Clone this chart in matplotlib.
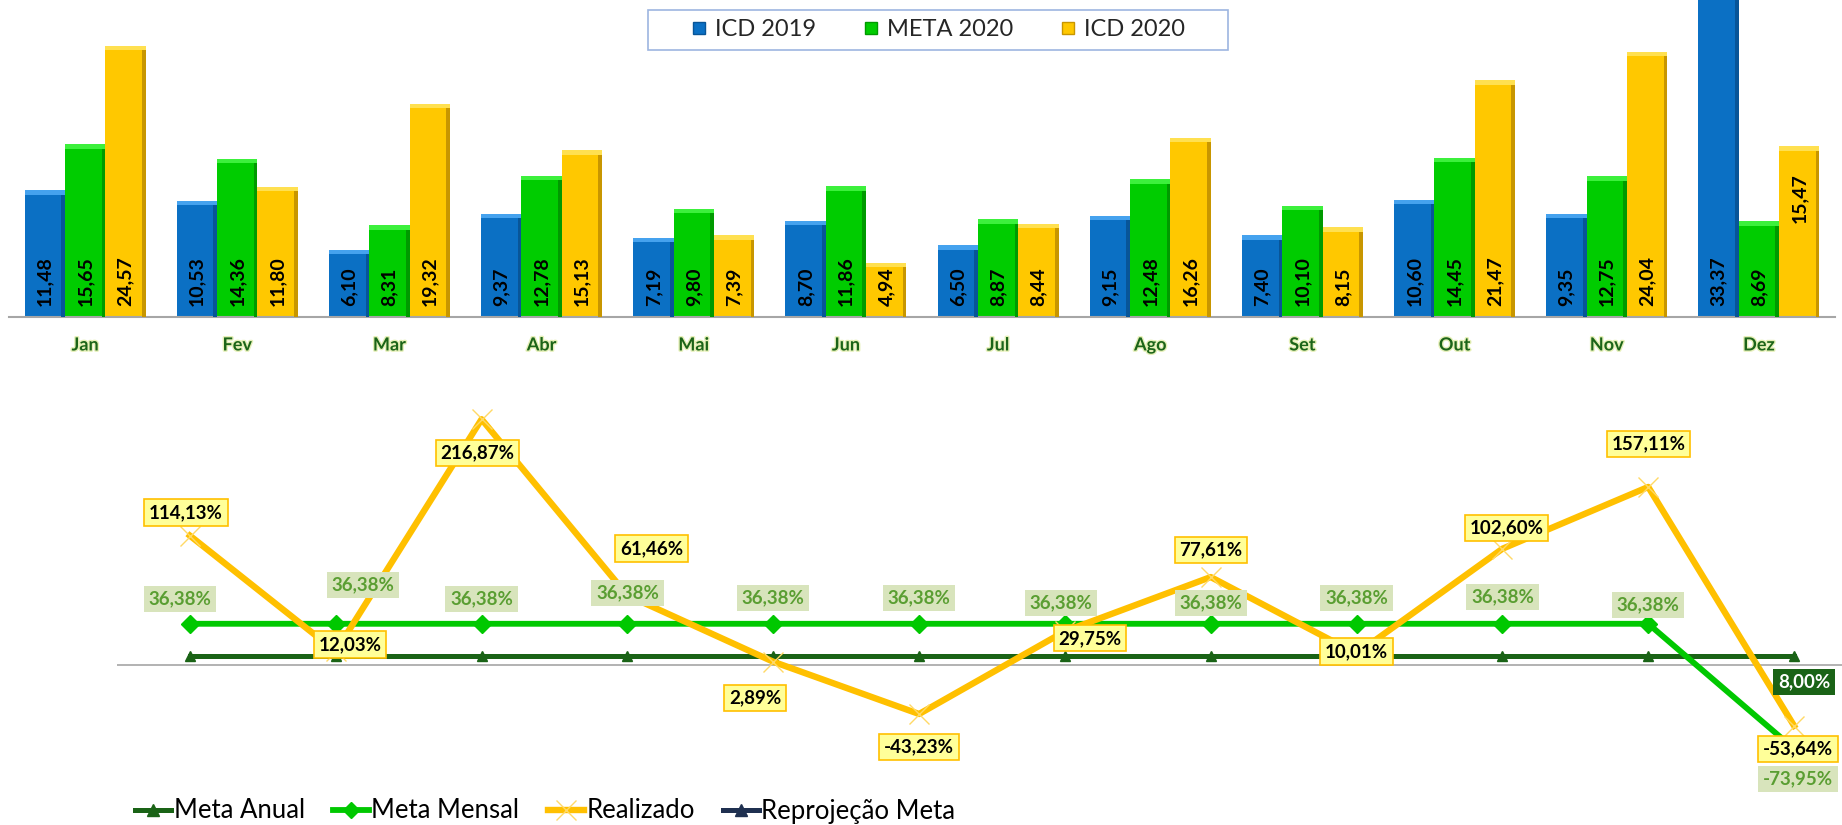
import matplotlib.pyplot as plt
from matplotlib.lines import Line2D
from matplotlib.patches import Rectangle
import matplotlib.patheffects as pe
import numpy as np

plt.rcParams['font.family'] = ['Lato', 'DejaVu Sans']

# dados do grafico de barras
months = ['Jan', 'Fev', 'Mar', 'Abr', 'Mai', 'Jun', 'Jul', 'Ago', 'Set', 'Out', 'Nov', 'Dez']
icd_2019 = [11.48, 10.53, 6.10, 9.37, 7.19, 8.70, 6.50, 9.15, 7.40, 10.60, 9.35, 33.37]
meta_2020 = [15.65, 14.36, 8.31, 12.78, 9.80, 11.86, 8.87, 12.48, 10.10, 14.45, 12.75, 8.69]
icd_2020 = [24.57, 11.80, 19.32, 15.13, 7.39, 4.94, 8.44, 16.26, 8.15, 21.47, 24.04, 15.47]

# dados do grafico de linhas (%)
meta_anual = [8.00, 8.00, 8.00, 8.00, 8.00, 8.00, 8.00, 8.00, 8.00, 8.00, 8.00, 8.00]
meta_mensal = [36.38, 36.38, 36.38, 36.38, 36.38, 36.38, 36.38, 36.38, 36.38, 36.38, 36.38, -73.95]
realizado = [114.13, 12.03, 216.87, 61.46, 2.89, -43.23, 29.75, 77.61, 10.01, 102.60, 157.11, -53.64]


def fmt(v, pct=False):
    s = f"{v:.2f}".replace('.', ',')
    return s + '%' if pct else s


W, H = 1842, 825
fig = plt.figure(figsize=(W / 100, H / 100), dpi=100)

# ---------------- barras ----------------
ax = fig.add_axes([9 / W, 1 - 317 / H, 1826 / W, 317 / H])
x = np.arange(len(months))
w = 0.265
series = [
    (icd_2019, -w, '#0B70C4', '#45A2EE', '#085598'),
    (meta_2020, 0.0, '#00CC00', '#3CF03C', '#009A00'),
    (icd_2020, w, '#FFC800', '#FFE050', '#C89600'),
]
for k, (vals, off, face, top, side) in enumerate(series):
    vals = np.array(vals)
    ax.bar(x + off, vals, w, color=face, zorder=2)
    ax.bar(x + off + w / 2 - 0.012, vals, 0.024, color=side, zorder=3)
    ax.bar(x + off, 0.4, w, bottom=vals - 0.4, color=top, zorder=3)
    for i, v in enumerate(vals):
        if k == 2 and i == 11:
            # rotulo de dezembro fica perto do topo da barra
            ax.text(x[i] + off, v - 2.4, fmt(v), rotation=90, ha='center', va='top',
                    fontsize=14, fontweight='bold', color='black', zorder=4)
        else:
            ax.text(x[i] + off, 1.0, fmt(v), rotation=90, ha='center', va='bottom',
                    fontsize=14, fontweight='bold', color='black', zorder=4)

ax.set_xlim(-0.5, 11.5)
ax.set_ylim(0, 28.74)
for s in ['top', 'left', 'right']:
    ax.spines[s].set_visible(False)
ax.spines['bottom'].set_color('#A6A6A6')
ax.spines['bottom'].set_linewidth(1.5)
ax.set_yticks([])
ax.set_xticks(x)
ax.set_xticklabels(months, fontsize=13, fontweight='bold', color='#1B6418')
for t in ax.get_xticklabels():
    t.set_path_effects([pe.withStroke(linewidth=2, foreground='#E6F0B8')])
ax.tick_params(axis='x', length=0, pad=14)

# legenda superior
fig.patches.append(Rectangle((648 / W, 1 - 50 / H), 580 / W, 40 / H, transform=fig.transFigure,
                             fill=False, edgecolor='#9DB5E0', linewidth=1.2))
top_handles = [Line2D([], [], ls='none', marker='s', ms=9, mfc=c, mec=e)
               for c, e in [('#0B70C4', '#085598'), ('#00CC00', '#009A00'), ('#FFC800', '#C89600')]]
fig.legend(top_handles, ['ICD 2019', 'META 2020', 'ICD 2020'], loc='center',
           bbox_to_anchor=(938 / W, 1 - 30 / H), ncol=3, frameon=False, fontsize=17,
           handlelength=0.7, handletextpad=0.3, columnspacing=2.0, labelcolor='#262626')

# ---------------- linhas ----------------
ax2 = fig.add_axes([117 / W, 1 - 790 / H, 1750 / W, 410 / H])
ax2.set_xlim(-0.5, 11.5)
ax2.set_ylim(-110.3, 251.5)
ax2.axis('off')
ax2.axhline(0, color='#A6A6A6', lw=1.2, zorder=1)

c_anual, c_mensal, c_real, c_rep = '#1A6316', '#00C800', '#FFC000', '#1F3050'
ax2.plot(x, meta_anual, color=c_anual, lw=3.6, marker='^', ms=7, zorder=3)
ax2.plot(x, meta_mensal, color=c_mensal, lw=4.2, marker='D', ms=9, zorder=4)
ax2.plot(x, realizado, color=c_real, lw=4.6, marker='x', ms=15, mew=1, mec='#FFD966', zorder=5)

# posicao dos rotulos (pixels, y para baixo)
real_off = [(-4, -23), (14, -7), (-4, 34), (24, -47), (-18, 36), (0, 33),
            (25, 7), (0, -27), (0, -2), (4, -21), (0, -43), (4, 23)]
mensal_off = [(-10, -25), (27, -39), (0, -25), (0, -31), (0, -26), (0, -26),
              (-4, -21), (0, -21), (0, -26), (0, -27), (0, -19), (4, 30)]

for i, v in enumerate(meta_mensal):
    dx, dy = mensal_off[i]
    ax2.annotate(fmt(v, True), (x[i], v), xytext=(dx, -dy), textcoords='offset pixels',
                 ha='center', va='center', fontsize=13.5, fontweight='bold', color='#5A9E32',
                 bbox=dict(boxstyle='square,pad=0.25', fc='#D8E4BC', ec='none'), zorder=6,
                 annotation_clip=False)

for i, v in enumerate(realizado):
    dx, dy = real_off[i]
    ax2.annotate(fmt(v, True), (x[i], v), xytext=(dx, -dy), textcoords='offset pixels',
                 ha='center', va='center', fontsize=13.5, fontweight='bold', color='black',
                 bbox=dict(boxstyle='square,pad=0.25', fc='#FFFF99', ec='#FFC000', lw=1.2),
                 zorder=7, annotation_clip=False)

ax2.annotate(fmt(meta_anual[-1], True), (x[-1], meta_anual[-1]), xytext=(10, -26),
             textcoords='offset pixels', ha='center', va='center', fontsize=13.5,
             fontweight='bold', color='white',
             bbox=dict(boxstyle='square,pad=0.25', fc=c_anual, ec='none'), zorder=6,
             annotation_clip=False)

bottom_handles = [
    Line2D([], [], color=c_anual, lw=3.6, marker='^', ms=8),
    Line2D([], [], color=c_mensal, lw=4.2, marker='D', ms=8),
    Line2D([], [], color=c_real, lw=4.6, marker='x', ms=14, mew=1, mec='#FFD966'),
    Line2D([], [], color=c_rep, lw=3.6, marker='^', ms=9),
]
fig.legend(bottom_handles, ['Meta Anual', 'Meta Mensal', 'Realizado', 'Reprojeção Meta'],
           loc='center left', bbox_to_anchor=(135 / W, 1 - 811 / H), ncol=4, frameon=False,
           fontsize=18.5, handlelength=1.4, handletextpad=0.1, columnspacing=1.1,
           borderpad=0, borderaxespad=0, labelcolor='black')

fig.savefig('out.png', dpi=100)
